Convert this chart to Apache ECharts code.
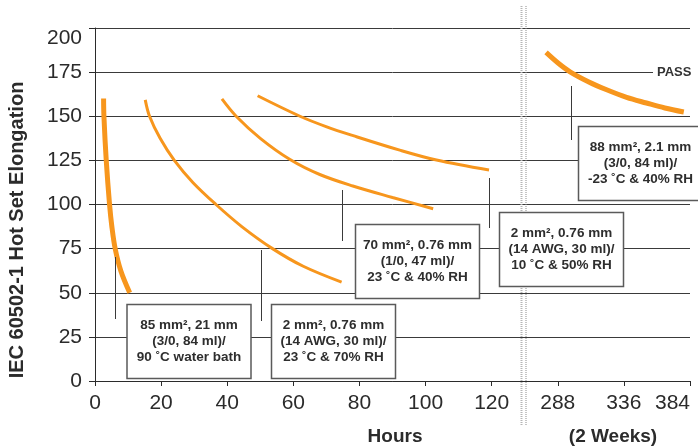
<!DOCTYPE html>
<html>
<head>
<meta charset="utf-8">
<script src="https://cdn.jsdelivr.net/npm/echarts@6/dist/echarts.min.js"></script>
<style>
html,body{margin:0;padding:0;background:#fff;}
#chart{width:698px;height:448px;}
</style>
</head>
<body>
<div id="chart"></div>
<script>
// ---- data (hours, hot set elongation %) ----
const xTickLabels = ['0','20','40','60','80','100','120','288','336','384'];
const yMin = 0, yMax = 200, yStep = 25;

// 85 mm², 21 mm (3/0, 84 ml) / 90 °C water bath
const c1Hours = [2.6, 2.7, 3.4, 4.4, 5.1, 6.1, 7.8, 10.5];
const c1Vals  = [160, 150, 125, 100, 87.5, 75, 62.5, 50];
// 2 mm², 0.76 mm (14 AWG, 30 ml) / 23 °C & 70% RH
const c2Hours = [15.2, 16.5, 19.7, 24, 29.6, 36.6, 44.4, 53.7, 63, 74.6];
const c2Vals  = [159.3, 150, 137.5, 125, 112.5, 100, 87.5, 75, 65, 56];
// 70 mm², 0.76 mm (1/0, 47 ml) / 23 °C & 40% RH
const c3Hours = [38.4, 42.7, 50, 59, 68, 78, 90, 102.3];
const c3Vals  = [159.8, 150, 137.5, 125.5, 117, 110.5, 104, 97.6];
// 2 mm², 0.76 mm (14 AWG, 30 ml) / 10 °C & 50% RH
const c4Hours = [49.2, 62, 70.1, 78.1, 92.2, 103.3, 119.2];
const c4Vals  = [161.6, 150, 144, 139, 130.8, 125.2, 119.5];
// 88 mm², 2.1 mm (3/0, 84 ml) / -23 °C & 40% RH
const c5Hours = [279.5, 288.2, 296.9, 310.2, 323.5, 338, 352.4, 365.7, 379.5];
const c5Vals  = [186.2, 180.2, 175.2, 169.6, 165.0, 160.7, 157.5, 154.7, 152.4];

// broken x axis: 0..120 linear, then 288..384 compressed into 140..180
function toAxis(h) { return h <= 130 ? h : 140 + (h - 288) * 20 / 48; }
function pairs(hs, vs) { return hs.map((h, i) => [toAxis(h), vs[i]]); }

const ORANGE = '#F7961D';
const FONT = '"Liberation Sans", Arial, Helvetica, sans-serif';

function curve(hs, vs, w) {
  return {
    type: 'line', data: pairs(hs, vs), smooth: 0.35,
    showSymbol: false, symbol: 'none', silent: true, z: 5,
    lineStyle: { color: ORANGE, width: w, cap: 'butt' }
  };
}

function box(x, y, w, h, lines) {
  return [
    { type: 'rect', z: 100, shape: { x: x, y: y, width: w, height: h },
      style: { fill: '#fff', stroke: '#5a5a5a', lineWidth: 1.5 } },
    { type: 'text', z: 101, x: x + w / 2, y: y + h / 2,
      style: { text: lines.join('\n'), textAlign: 'center', textVerticalAlign: 'middle',
        font: 'bold 13.5px ' + FONT, fill: '#2e2e2e', lineHeight: 16 } }
  ];
}
function vline(x, y1, y2) {
  return { type: 'line', z: 90, shape: { x1: x, y1: y1, x2: x, y2: y2 },
    style: { stroke: '#3a3a3a', lineWidth: 1 } };
}

const chart = echarts.init(document.getElementById('chart'), null, { renderer: 'canvas' });

const graphics = [].concat(
  vline(115.5, 257, 319),
  vline(261.5, 250, 321),
  vline(342.5, 190, 241),
  vline(489.5, 178, 228),
  vline(571.5, 86, 140),
  box(127, 304.5, 124, 74, ['85 mm², 21 mm', '(3/0, 84 ml)/', '90 ˚C water bath']),
  box(271.5, 304.5, 124, 74, ['2 mm², 0.76 mm', '(14 AWG, 30 ml)/', '23 ˚C & 70% RH']),
  box(355.5, 224.5, 124, 74, ['70 mm², 0.76 mm', '(1/0, 47 ml)/', '23 ˚C & 40% RH']),
  box(499.5, 212.5, 124, 74, ['2 mm², 0.76 mm', '(14 AWG, 30 ml)/', '10 ˚C & 50% RH']),
  box(578.5, 126.5, 124, 74, ['88 mm², 2.1 mm', '(3/0, 84 ml)/', '-23 ˚C & 40% RH']),
  [
    { type: 'line', z: 95, shape: { x1: 521.5, y1: 6, x2: 521.5, y2: 425 },
      style: { stroke: '#b5b5b5', lineWidth: 2, lineDash: [1, 1] } },
    { type: 'line', z: 95, shape: { x1: 526, y1: 6, x2: 526, y2: 425 },
      style: { stroke: '#8a8a8a', lineWidth: 1, lineDash: [1, 1] } },
    { type: 'text', z: 100, x: 653, y: 72,
      style: { text: 'PASS', font: 'bold 13px ' + FONT, fill: '#333',
        textVerticalAlign: 'middle', backgroundColor: '#fff', padding: [2, 0, 2, 4] } },
    { type: 'text', z: 100, x: 17, y: 230, rotation: Math.PI / 2,
      style: { text: 'IEC 60502-1 Hot Set Elongation', font: 'bold 20px ' + FONT, fill: '#2b2b2b',
        textAlign: 'center', textVerticalAlign: 'middle' } },
    { type: 'text', z: 100, x: 395, y: 437,
      style: { text: 'Hours', font: 'bold 19px ' + FONT, fill: '#2b2b2b',
        textAlign: 'center', textVerticalAlign: 'middle' } },
    { type: 'text', z: 100, x: 613, y: 437,
      style: { text: '(2 Weeks)', font: 'bold 19px ' + FONT, fill: '#2b2b2b',
        textAlign: 'center', textVerticalAlign: 'middle' } }
  ]
);

chart.setOption({
  animation: false,
  backgroundColor: '#fff',
  grid: { left: 95, right: 8, top: 28, bottom: 67, containLabel: false },
  xAxis: {
    type: 'value', min: 0, max: 180, interval: 20,
    axisLine: { show: true, lineStyle: { color: '#2b2b2b', width: 1 } },
    axisTick: { show: true, length: 5, inside: false, lineStyle: { color: '#2b2b2b' } },
    splitLine: { show: false },
    axisLabel: {
      margin: 12, fontSize: 21, color: '#2b2b2b', fontFamily: FONT,
      alignMaxLabel: 'right',
      formatter: v => xTickLabels[Math.round(v / 20)] || ''
    }
  },
  yAxis: {
    type: 'value', min: yMin, max: yMax, interval: yStep,
    axisLine: { show: true, lineStyle: { color: '#2b2b2b', width: 1 } },
    axisTick: { show: true, length: 6, lineStyle: { color: '#2b2b2b' } },
    splitLine: { show: true, lineStyle: { color: '#3a3a3a', width: 1 } },
    axisLabel: { margin: 13, fontSize: 21, color: '#2b2b2b', fontFamily: FONT,
      verticalAlignMaxLabel: 'top' }
  },
  series: [
    curve(c1Hours, c1Vals, 5),
    curve(c2Hours, c2Vals, 3),
    curve(c3Hours, c3Vals, 3),
    curve(c4Hours, c4Vals, 3),
    curve(c5Hours, c5Vals, 5)
  ],
  graphic: graphics
});
</script>
</body>
</html>
